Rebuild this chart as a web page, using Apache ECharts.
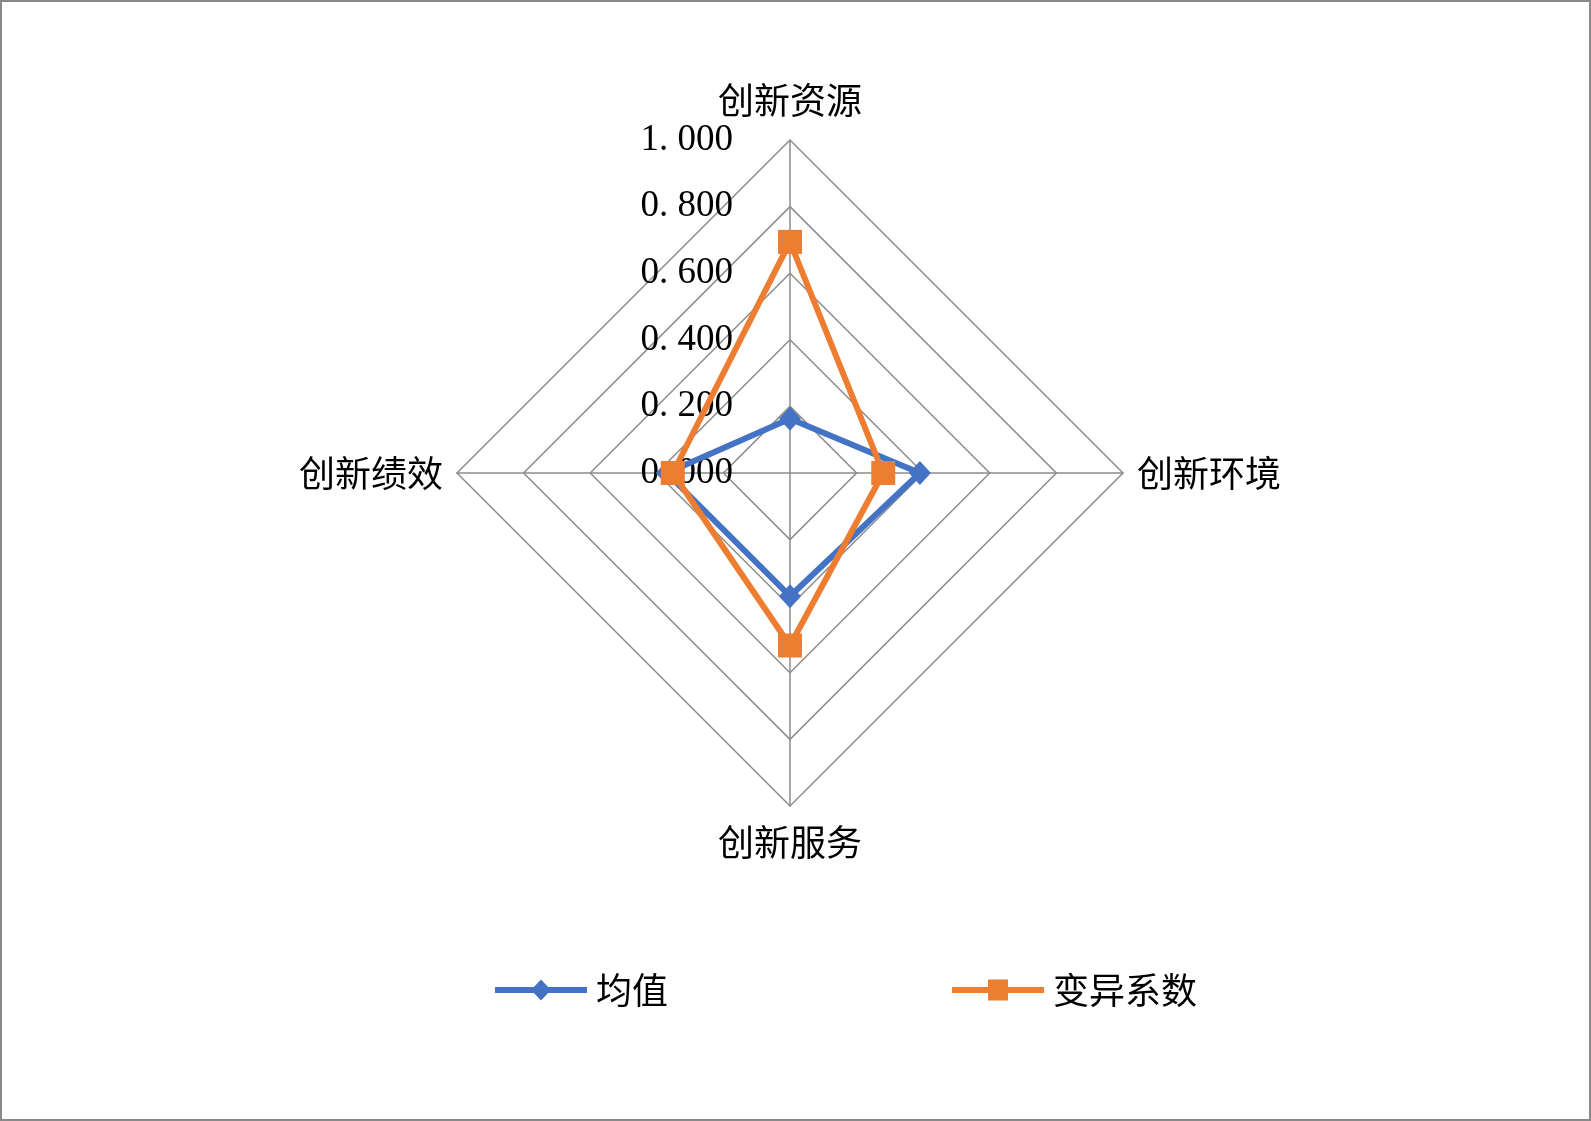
<!DOCTYPE html>
<html>
<head>
<meta charset="utf-8">
<script src="https://cdn.jsdelivr.net/npm/echarts@6/dist/echarts.min.js"></script>
<style>
html,body{margin:0;padding:0;background:#fff;}
#frame{position:absolute;left:0;top:0;width:1591px;height:1121px;box-sizing:border-box;border:2px solid #898989;background:#fff;}
#chart{position:absolute;left:0;top:0;width:1591px;height:1121px;}
</style>
</head>
<body>
<div id="frame"></div>
<div id="chart"></div>
<script>
// ECharts radar places indicators counter-clockwise from the top
const categories = ['创新资源', '创新绩效', '创新服务', '创新环境'];
const meanValues = [0.163, 0.37, 0.37, 0.39];
const cvValues = [0.694, 0.352, 0.518, 0.28];
const seriesNames = ['均值', '变异系数'];
const tickValues = [0, 0.2, 0.4, 0.6, 0.8, 1.0];

const CJK = "'Noto Sans CJK SC', sans-serif";
const NUM = "'Liberation Serif', 'DejaVu Serif', serif";
const cx = 790, cy = 473, R = 333;

const chart = echarts.init(document.getElementById('chart'), null, {renderer: 'canvas'});
const diamondIcon = 'path://M0,7.5 L92,7.5 L92,13.5 L0,13.5 Z M46,0 L56,10.5 L46,21 L36,10.5 Z';
const squareIcon = 'path://M0,7.5 L92,7.5 L92,13.5 L0,13.5 Z M36,0 L56,0 L56,21 L36,21 Z';

chart.setOption({
  backgroundColor: 'transparent',
  animation: false,
  radar: {
    center: [cx, cy],
    radius: R,
    startAngle: 90,
    shape: 'polygon',
    splitNumber: 5,
    indicator: categories.map(n => ({name: n, min: 0, max: 1})),
    axisName: {
      color: '#000', fontSize: 36, fontFamily: CJK,
      formatter: (name) => {
        if (name === categories[0]) return '{top|' + name + '}';
        if (name === categories[2]) return '{bot|' + name + '}';
        return name;
      },
      rich: {
        top: {fontSize: 36, fontFamily: CJK, color: '#000', padding: [0, 0, 8, 0]},
        bot: {fontSize: 36, fontFamily: CJK, color: '#000', padding: [4, 0, 0, 0]}
      }
    },
    nameGap: 14,
    axisLine: {lineStyle: {color: '#8c8c8c', width: 1.5}},
    splitLine: {lineStyle: {color: '#8c8c8c', width: 1.5}},
    splitArea: {show: false},
    axisTick: {show: false},
    axisLabel: {show: false}
  },
  grid: {left: cx, top: cy - R, width: 10, height: R, containLabel: false},
  xAxis: {type: 'value', show: false},
  yAxis: {
    type: 'value', min: 0, max: 1, interval: 0.2,
    axisLine: {show: false}, axisTick: {show: false}, splitLine: {show: false},
    axisLabel: {
      show: true, margin: 57, color: '#000', fontSize: 37, fontFamily: NUM,
      padding: [6, 0, 0, 0],
      formatter: v => v.toFixed(3).replace('.', '. ')
    }
  },
  legend: {
    left: 490, top: 967,
    itemWidth: 92, itemHeight: 21, itemGap: 284,
    textStyle: {color: '#000', fontSize: 36, fontFamily: CJK, padding: [0,0,0,4]},
    data: [
      {name: seriesNames[0], icon: diamondIcon},
      {name: seriesNames[1], icon: squareIcon}
    ]
  },
  series: [{
    type: 'radar',
    z: 3,
    data: [
      {name: seriesNames[0], value: meanValues, symbol: 'diamond', symbolSize: [22, 24],
       lineStyle: {color: '#4472C4', width: 6}, itemStyle: {color: '#4472C4'}},
      {name: seriesNames[1], value: cvValues, symbol: 'rect', symbolSize: 24,
       lineStyle: {color: '#ED7D31', width: 6}, itemStyle: {color: '#ED7D31'}}
    ]
  }]
});
</script>
</body>
</html>
